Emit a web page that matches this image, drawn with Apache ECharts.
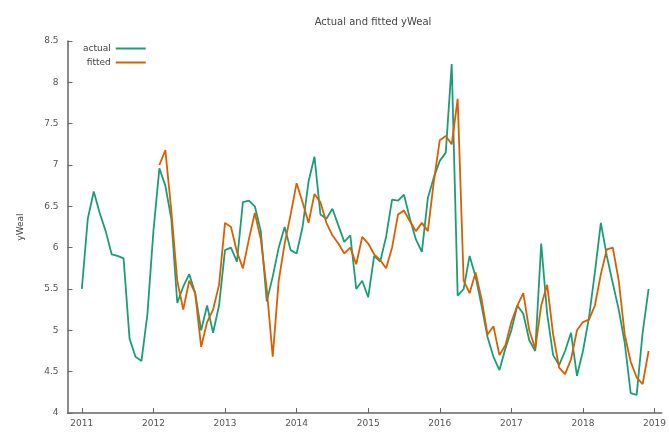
<!DOCTYPE html>
<html>
<head>
<meta charset="utf-8">
<script src="https://cdn.jsdelivr.net/npm/echarts@6/dist/echarts.min.js"></script>
<style>
  html, body { margin: 0; padding: 0; background: #fff; }
  #chart { width: 669px; height: 432px; }
</style>
</head>
<body>
<div id="chart"></div>
<script>
// Monthly series, starting January 2011
const startYear = 2011;
const actual = [
  5.50, 6.35, 6.68, 6.42, 6.20, 5.92, 5.90, 5.87, 4.90, 4.68, 4.63, 5.20,
  6.20, 6.96, 6.75, 6.35, 5.33, 5.53, 5.68, 5.45, 5.00, 5.30, 4.97, 5.30,
  5.97, 6.00, 5.83, 6.55, 6.57, 6.50, 6.20, 5.35, 5.65, 6.00, 6.25, 5.97,
  5.93, 6.25, 6.80, 7.10, 6.40, 6.35, 6.47, 6.27, 6.07, 6.15, 5.50, 5.60,
  5.40, 5.90, 5.83, 6.13, 6.58, 6.57, 6.64, 6.35, 6.10, 5.95, 6.60, 6.85,
  7.05, 7.15, 8.22, 5.42, 5.50, 5.90, 5.65, 5.30, 4.92, 4.68, 4.52, 4.78,
  5.00, 5.30, 5.20, 4.88, 4.75, 6.05, 5.20, 4.70, 4.58, 4.75, 4.97, 4.45,
  4.75, 5.15, 5.70, 6.30, 5.90, 5.57, 5.25, 4.85, 4.24, 4.22, 4.97, 5.50
];
// Fitted values begin in February 2012 (index 13)
const fittedStart = 13;
const fitted = [
  7.00, 7.18, 6.45, 5.60, 5.25, 5.60, 5.45, 4.80, 5.10, 5.25, 5.55,
  6.30, 6.25, 5.95, 5.75, 6.10, 6.42, 6.10, 5.50, 4.68, 5.60, 6.05, 6.40,
  6.78, 6.55, 6.30, 6.65, 6.55, 6.30, 6.15, 6.05, 5.93, 6.00, 5.80, 6.13,
  6.05, 5.92, 5.85, 5.75, 6.00, 6.40, 6.45, 6.32, 6.20, 6.30, 6.20, 6.80,
  7.30, 7.35, 7.25, 7.80, 5.60, 5.45, 5.70, 5.38, 4.95, 5.05, 4.70, 4.82,
  5.10, 5.30, 5.45, 5.00, 4.78, 5.30, 5.55, 4.95, 4.55, 4.47, 4.65, 5.00,
  5.10, 5.13, 5.30, 5.68, 5.98, 6.00, 5.60, 4.95, 4.62, 4.43, 4.35, 4.75
];
const yearTicks = [2011, 2012, 2013, 2014, 2015, 2016, 2017, 2018, 2019];
const varName = 'yWeal';

const monthTime = i => startYear + i / 12;
const actualData = actual.map((v, i) => [monthTime(i), v]);
const fittedData = fitted.map((v, i) => [monthTime(fittedStart + i), v]);

const axisGrey = '#666';
const textGrey = '#555';

const chart = echarts.init(document.getElementById('chart'));
chart.setOption({
  animation: false,
  backgroundColor: '#fff',
  title: {
    text: 'Actual and fitted ' + varName,
    left: 368, top: 12, textAlign: 'center',
    textStyle: { fontFamily: 'DejaVu Sans', fontSize: 10, fontWeight: 'normal', color: '#444' }
  },
  legend: {
    orient: 'vertical', left: 78, top: 39,
    align: 'right', itemGap: 5, itemWidth: 30, itemHeight: 2,
    icon: 'rect',
    textStyle: { fontFamily: 'DejaVu Sans', fontSize: 9, color: '#444', width: 36, align: 'right' },
    data: ['actual', 'fitted']
  },
  grid: { left: 67.5, right: 0, top: 41, bottom: 19, containLabel: false },
  xAxis: {
    type: 'value', min: 2010.8, max: 2019.1,
    splitLine: { show: false },
    axisLine: { lineStyle: { color: axisGrey, width: 1.5 } },
    axisTick: { inside: true, length: 5, lineStyle: { color: axisGrey }, customValues: yearTicks },
    axisLabel: {
      customValues: yearTicks, margin: 6,
      fontFamily: 'DejaVu Sans', fontSize: 9, color: textGrey,
      formatter: v => String(Math.round(v))
    }
  },
  yAxis: {
    type: 'value', min: 4, max: 8.5, interval: 0.5,
    name: varName, nameLocation: 'middle', nameGap: 42,
    nameTextStyle: { fontFamily: 'DejaVu Sans', fontSize: 9, color: '#444' },
    splitLine: { show: false },
    axisLine: { show: true, lineStyle: { color: axisGrey, width: 1.5 } },
    axisTick: { show: true, inside: true, length: 5, lineStyle: { color: axisGrey } },
    axisLabel: { margin: 9, fontFamily: 'DejaVu Sans', fontSize: 9, color: textGrey }
  },
  series: [
    {
      name: 'actual', type: 'line', data: actualData,
      showSymbol: false, symbol: 'none',
      lineStyle: { color: '#1b9e77', width: 1.8 },
      itemStyle: { color: '#1b9e77' }, z: 2
    },
    {
      name: 'fitted', type: 'line', data: fittedData,
      showSymbol: false, symbol: 'none',
      lineStyle: { color: '#d95f02', width: 1.8 },
      itemStyle: { color: '#d95f02' }, z: 3
    }
  ]
});
</script>
</body>
</html>
